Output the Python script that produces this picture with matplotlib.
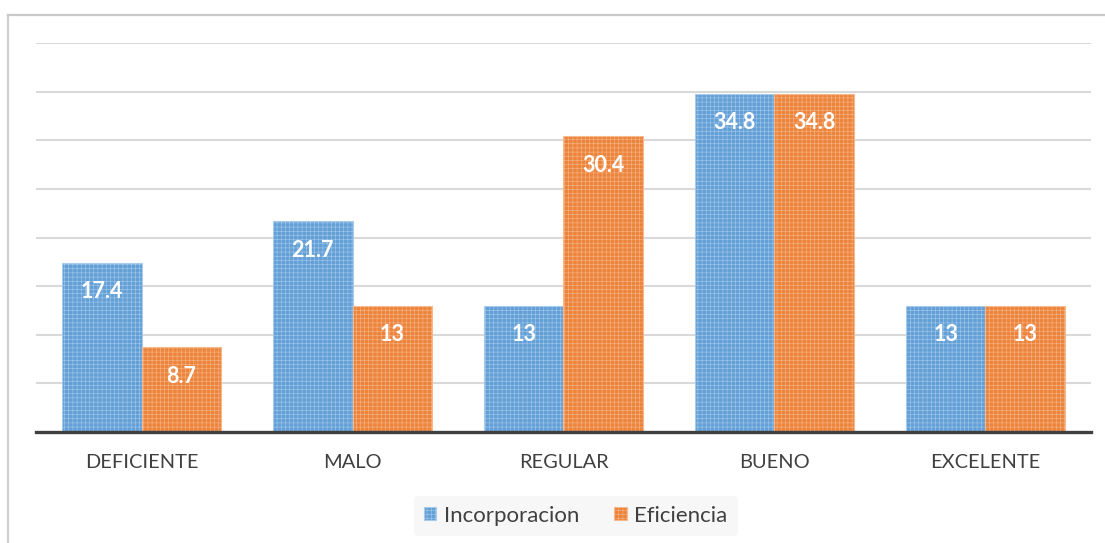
import matplotlib
matplotlib.use('Agg')
import matplotlib.pyplot as plt
from matplotlib.lines import Line2D
import numpy as np

plt.rcParams['font.family'] = ['Lato', 'DejaVu Sans']
plt.rcParams['hatch.linewidth'] = 0.4

categorias = ['DEFICIENTE', 'MALO', 'REGULAR', 'BUENO', 'EXCELENTE']
incorporacion = [17.4, 21.7, 13, 34.8, 13]
eficiencia = [8.7, 13, 30.4, 34.8, 13]
etiquetas_inc = ['17.4', '21.7', '13', '34.8', '13']
etiquetas_efi = ['8.7', '13', '30.4', '34.8', '13']

fig = plt.figure(figsize=(11.05, 5.43), dpi=100)
ax = fig.add_axes([0.0326, 0.2044, 0.9547, 0.7164])

x = np.arange(len(categorias))
w = 0.377

b1 = ax.bar(x - w / 2, incorporacion, w, color='#5B9BD5', edgecolor='#A9CBEB',
            linewidth=0.8, hatch='++++', label='Incorporacion', zorder=2, alpha=0.95)
b2 = ax.bar(x + w / 2, eficiencia, w, color='#ED7D31', edgecolor='#F6B98E',
            linewidth=0.8, hatch='++++', label='Eficiencia', zorder=2, alpha=0.95)

for bars, labs in ((b1, etiquetas_inc), (b2, etiquetas_efi)):
    for r, t in zip(bars, labs):
        ax.annotate(t, (r.get_x() + r.get_width() / 2, r.get_height()),
                    xytext=(0, -21), textcoords='offset points',
                    ha='center', va='center', color='white',
                    fontsize=15.5, fontweight='bold', zorder=3)

ax.set_xlim(-0.5, 4.5)
ax.set_ylim(0, 40)
ax.set_yticks(np.arange(5, 41, 5))
ax.yaxis.grid(True, color='#D9D9D9', linewidth=1.5, zorder=0)
ax.set_axisbelow(True)
ax.tick_params(axis='y', left=False, labelleft=False)
ax.tick_params(axis='x', bottom=False, labelsize=14.4, labelcolor='#404040', pad=12)
ax.set_xticks(x)
ax.set_xticklabels(categorias)
for s in ['top', 'right', 'left']:
    ax.spines[s].set_visible(False)
ax.spines['bottom'].set_color('#404040')
ax.spines['bottom'].set_linewidth(2.4)
ax.spines['bottom'].set_zorder(4)

leg = ax.legend(loc='center', bbox_to_anchor=(0.5115, -0.215), ncol=2,
                frameon=True, fontsize=16, handlelength=0.55, handleheight=0.55,
                handletextpad=0.35, columnspacing=1.6, borderpad=0.45)
leg.get_frame().set_facecolor('#F6F6F6')
leg.get_frame().set_edgecolor('none')
for t in leg.get_texts():
    t.set_color('#404040')

# frame of the original chart
fig.add_artist(Line2D([8 / 1105, 8 / 1105], [0, 1 - 15 / 543], color='#D0D0D0', linewidth=1.6))
fig.add_artist(Line2D([8 / 1105, 1], [1 - 15 / 543, 1 - 15 / 543], color='#C8C8C8', linewidth=1.6))

fig.savefig('out.png', dpi=100)
